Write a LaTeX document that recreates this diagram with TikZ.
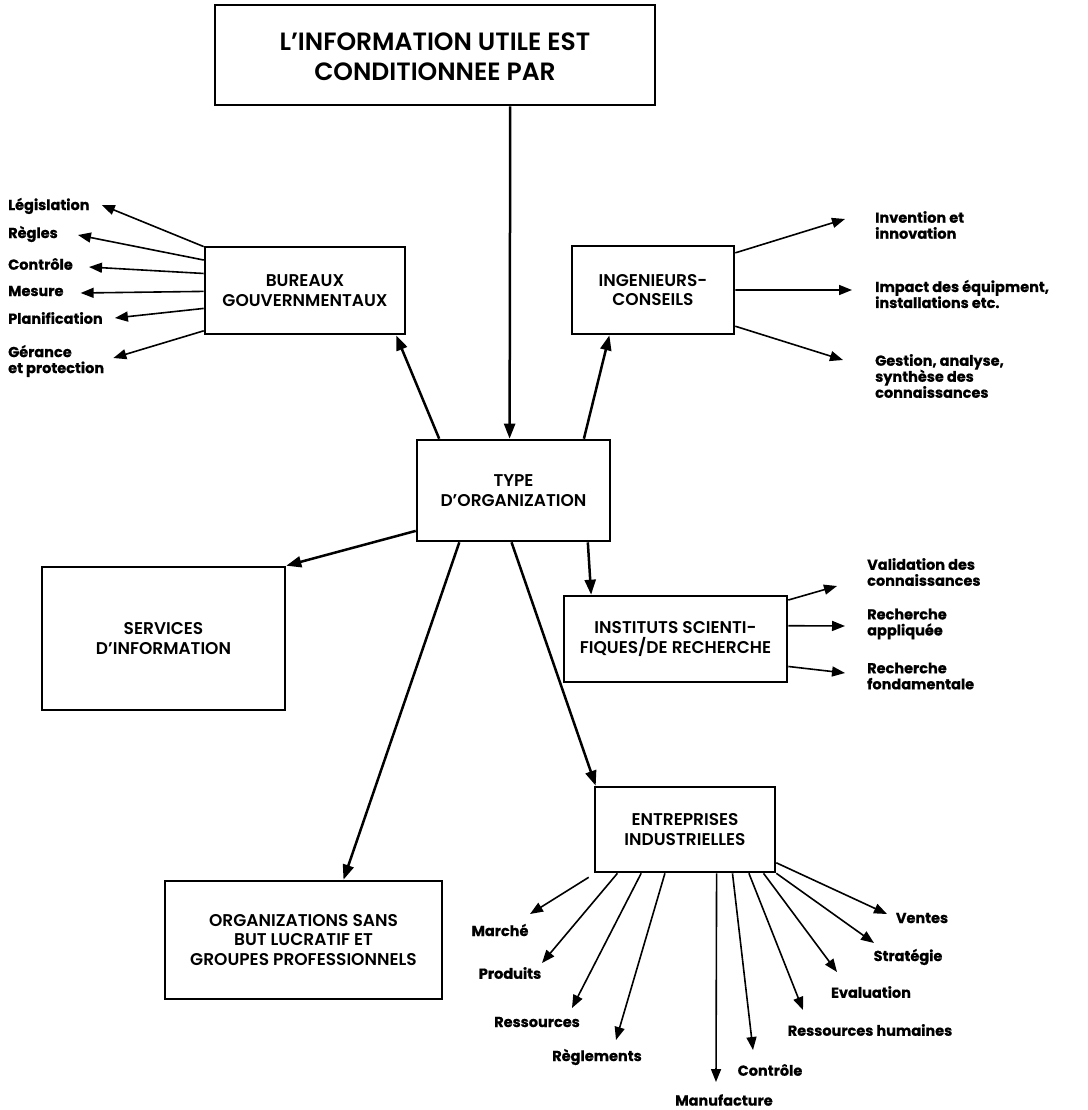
\documentclass[tikz,border=0pt]{standalone}
\usepackage{fontspec}
\setmainfont{Poppins}
\newfontfamily\boxfont{Poppins}[UprightFont={* SemiBold}]
\newfontfamily\leaffont{Poppins}[FakeBold=0.6]
\usetikzlibrary{arrows.meta,calc}
\begin{document}
\begin{tikzpicture}[x=1pt,y=-1pt,
  box/.style={draw,line width=2.6pt,align=center,inner sep=0pt,font=\boxfont\fontsize{17}{19.5}\selectfont},
  lab/.style={align=left,inner sep=0pt,font=\leaffont\bfseries\fontsize{14.5}{16}\selectfont},
  link/.style={line width=2.5pt,-{Triangle[length=15pt,width=11pt]}},
  leaf/.style={line width=1.6pt,-{Triangle[length=13pt,width=10pt]}}]
\fill[white] (0,0) rectangle (1087,1110);
\useasboundingbox (0,0) rectangle (1087,1110);

% main boxes
\node[box,minimum width=440pt,minimum height=100pt] (top) at (435,55) {};
\node[font=\boxfont\fontsize{25}{30}\selectfont,align=center] (toptext) at ([yshift=-2pt]top.center) {L’INFORMATION UTILE EST\\CONDITIONNEE PAR};
\node[box,minimum width=200pt,minimum height=87pt] (bur) at (305,290.5) {BUREAUX\\GOUVERNMENTAUX};
\node[box,minimum width=162pt,minimum height=88pt] (ing) at (653,290) {INGENIEURS-\\CONSEILS};
\node[box,minimum width=193pt,minimum height=101pt] (type) at (513.5,490.5) {TYPE\\D’ORGANIZATION};
\node[box,minimum width=243pt,minimum height=143pt] (serv) at (163.5,638.5) {SERVICES\\D’INFORMATION};
\node[box,minimum width=223pt,minimum height=86pt] (inst) at (675.5,639) {INSTITUTS SCIENTI-\\FIQUES/DE RECHERCHE};
\node[box,minimum width=180pt,minimum height=85pt] (ent) at (685,829.5) {ENTREPRISES\\INDUSTRIELLES};
\node[box,minimum width=277pt,minimum height=118pt] (org) at (303.5,940) {ORGANIZATIONS SANS\\BUT LUCRATIF ET\\GROUPES PROFESSIONNELS};

% links between the boxes
\draw[link] ($(top.south west)!0.67!(top.south east)$) -- ($(type.north west)!0.48!(type.north east)$);
\draw[link] ($(type.north west)!0.12!(type.north east)$) -- ($(bur.south west)!0.95!(bur.south east)$);
\draw[link] ($(type.north west)!0.86!(type.north east)$) -- ($(ing.south west)!0.235!(ing.south east)$);
\draw[link] ($(type.north west)!0.89!(type.south west)$) -- (serv.north east);
\draw[link] ($(type.south west)!0.223!(type.south east)$) -- ($(org.north west)!0.643!(org.north east)$);
\draw[link] ($(type.south west)!0.49!(type.south east)$) -- ($(ent.north west)+(2,0)$);
\draw[link] ($(type.south west)!0.88!(type.south east)$) -- ($(inst.north west)!0.126!(inst.north east)$);

% government offices
\node[lab,anchor=west] (lLeg) at (8,206) {Législation};
\node[lab,anchor=west] (lReg) at (8,234) {Règles};
\node[lab,anchor=west] (lCon) at (8,264) {Contrôle};
\node[lab,anchor=west] (lMes) at (8,291) {Mesure};
\node[lab,anchor=west] (lPla) at (8,318) {Planification};
\node[lab,anchor=west] (lGer) at (8,361) {Gérance\\et protection};
\draw[leaf] ($(bur.north west)!0.01!(bur.south west)$) -- ($(lLeg.east)+(12,-1)$);
\draw[leaf] ($(bur.north west)!0.16!(bur.south west)$) -- ($(lReg.east)+(20,1)$);
\draw[leaf] ($(bur.north west)!0.31!(bur.south west)$) -- ($(lCon.east)+(16,3)$);
\draw[leaf] ($(bur.north west)!0.51!(bur.south west)$) -- ($(lMes.east)+(17,2)$);
\draw[leaf] ($(bur.north west)!0.70!(bur.south west)$) -- ($(lPla.east)+(12,0)$);
\draw[leaf] ($(bur.north west)!0.95!(bur.south west)$) -- ($(lGer.east)+(9,-3)$);

% consulting engineers
\node[lab,anchor=west] (lInv) at (875,225) {Invention et\\innovation};
\node[lab,anchor=west] (lImp) at (875,294) {Impact des équipment,\\installations etc.};
\node[lab,anchor=west] (lGes) at (875,376) {Gestion, analyse,\\synthèse des\\connaissances};
\draw[leaf] ($(ing.north east)!0.09!(ing.south east)$) -- ($(lInv.west)+(-30,-6)$);
\draw[leaf] ($(ing.north east)!0.50!(ing.south east)$) -- ($(lImp.west)+(-23,-4)$);
\draw[leaf] ($(ing.north east)!0.90!(ing.south east)$) -- ($(lGes.west)+(-32,-16)$);

% research institutes
\node[lab,anchor=west] (lVal) at (867,572) {Validation des\\connaissances};
\node[lab,anchor=west] (lRA) at (867,624) {Recherche\\appliquée};
\node[lab,anchor=west] (lRF) at (867,676) {Recherche\\fondamentale};
\draw[leaf] ($(inst.north east)!0.06!(inst.south east)$) -- ($(lVal.west)+(-30,14)$);
\draw[leaf] ($(inst.north east)!0.35!(inst.south east)$) -- ($(lRA.west)+(-22,2)$);
\draw[leaf] ($(inst.north east)!0.81!(inst.south east)$) -- ($(lRF.west)+(-22,-3)$);

% industrial firms
\node[lab] (lMar) at (500,930) {Marché};
\node[lab] (lPro) at (510,973) {Produits};
\node[lab] (lRes) at (537,1022) {Ressources};
\node[lab] (lRgl) at (597,1057) {Règlements};
\node[lab] (lMan) at (724,1100) {Manufacture};
\node[lab] (lCtr) at (770,1070) {Contrôle};
\node[lab] (lRH) at (870,1030) {Ressources humaines};
\node[lab] (lEva) at (871,992) {Evaluation};
\node[lab] (lStr) at (908,957) {Stratégie};
\node[lab] (lVen) at (922,918) {Ventes};
\coordinate (tMar) at (530,914);
\coordinate (tPro) at (542,963);
\coordinate (tRes) at (572,1008);
\coordinate (tRgl) at (616,1040);
\coordinate (tMan) at (716,1082);
\coordinate (tCtr) at (753,1050);
\coordinate (tRH) at (803,1010);
\coordinate (tEva) at (837,972);
\coordinate (tStr) at (874,943);
\coordinate (tVen) at (887,914);
\draw[leaf] ($(ent.south west)+(-5,4)$) -- (tMar);
\draw[leaf] ($(ent.south west)!0.13!(ent.south east)$) -- (tPro);
\draw[leaf] ($(ent.south west)!0.26!(ent.south east)$) -- (tRes);
\draw[leaf] ($(ent.south west)!0.39!(ent.south east)$) -- (tRgl);
\draw[leaf] ($(ent.south west)!0.673!(ent.south east)$) -- (tMan);
\draw[leaf] ($(ent.south west)!0.76!(ent.south east)$) -- (tCtr);
\draw[leaf] ($(ent.south west)!0.85!(ent.south east)$) -- (tRH);
\draw[leaf] ($(ent.south west)!0.93!(ent.south east)$) -- (tEva);
\draw[leaf] (ent.south east) -- (tStr);
\draw[leaf] ($(ent.south east)!0.12!(ent.north east)$) -- (tVen);
\end{tikzpicture}
\end{document}
